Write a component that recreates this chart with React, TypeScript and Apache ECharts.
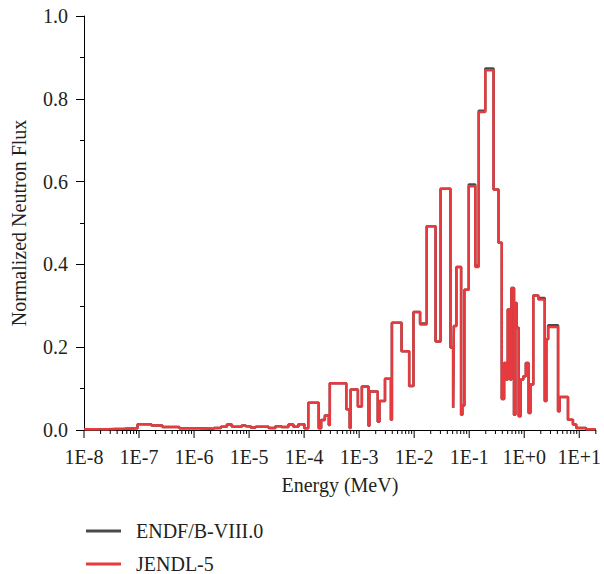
import React, { useEffect, useRef } from "react";
import * as echarts from "echarts";

// Group boundaries (MeV)
const energyEdges = [
  1.0e-8, 2.71e-8, 5.49e-8, 9.41e-8, 1.68e-7, 2.66e-7, 5.39e-7, 1.24e-6, 2.3e-6, 3.08e-6,
  3.95e-6, 4.87e-6, 7.37e-6, 8.7e-6, 1.07e-5, 1.32e-5, 2.26e-5, 3.02e-5, 3.88e-5, 5.19e-5,
  6.39e-5, 7.86e-5, 1.01e-4, 1.19e-4, 1.84e-4, 2.04e-4, 2.38e-4, 2.81e-4, 2.93e-4, 5.84e-4,
  6.73e-4, 7.01e-4, 9.49e-4, 1.12e-3, 1.48e-3, 1.54e-3, 2.18e-3, 2.34e-3, 2.95e-3, 3.78e-3,
  3.94e-3, 5.9e-3, 8.12e-3, 9.71e-3, 1.28e-2, 1.69e-2, 2.45e-2, 3.02e-2, 4.57e-2, 5.11e-2,
  5.26e-2, 5.86e-2, 7.13e-2, 7.52e-2, 8.18e-2, 9.81e-2, 0.129, 0.149, 0.196, 0.277,
  0.341, 0.391, 0.431, 0.468, 0.502, 0.552, 0.585, 0.652, 0.691, 0.729,
  0.793, 0.861, 0.963, 1.07, 1.2, 1.3, 1.46, 1.8, 2.36, 2.53,
  2.72, 4.12, 4.4, 6.24, 7.68, 8.81, 13.3, 20,
];

const jendl5Flux = [
  0.002, 0.003, 0.004, 0.014, 0.011, 0.007, 0.004, 0.003, 0.005, 0.008,
  0.013, 0.008, 0.011, 0.009, 0.006, 0.008, 0.005, 0.009, 0.007, 0.013,
  0.008, 0.014, 0.004, 0.066, 0.004, 0.024, 0.035, 0.012, 0.113, 0.05,
  0.005, 0.098, 0.057, 0.105, 0.01, 0.093, 0.02, 0.07, 0.124, 0.025,
  0.259, 0.19, 0.106, 0.285, 0.255, 0.492, 0.214, 0.583, 0.199, 0.054,
  0.251, 0.394, 0.037, 0.059, 0.339, 0.589, 0.394, 0.768, 0.869, 0.581,
  0.452, 0.075, 0.162, 0.122, 0.291, 0.122, 0.343, 0.037, 0.307, 0.247,
  0.033, 0.122, 0.13, 0.162, 0.041, 0.11, 0.325, 0.315, 0.07, 0.219,
  0.249, 0.045, 0.08, 0.025, 0.013, 0.005, 0.002,
];

const endfFlux = [
  0.002, 0.003, 0.004, 0.014, 0.011, 0.007, 0.004, 0.003, 0.005, 0.008,
  0.013, 0.008, 0.011, 0.009, 0.006, 0.008, 0.005, 0.009, 0.007, 0.013,
  0.008, 0.014, 0.004, 0.066, 0.004, 0.024, 0.035, 0.012, 0.113, 0.05,
  0.005, 0.098, 0.057, 0.105, 0.01, 0.093, 0.02, 0.07, 0.124, 0.025,
  0.259, 0.19, 0.106, 0.285, 0.257, 0.492, 0.214, 0.583, 0.199, 0.054,
  0.251, 0.394, 0.037, 0.059, 0.339, 0.593, 0.397, 0.771, 0.873, 0.581,
  0.452, 0.075, 0.162, 0.122, 0.291, 0.122, 0.343, 0.037, 0.307, 0.247,
  0.033, 0.122, 0.13, 0.162, 0.041, 0.11, 0.325, 0.319, 0.07, 0.219,
  0.253, 0.045, 0.08, 0.025, 0.013, 0.005, 0.002,
];

const seriesNames = ["ENDF/B-VIII.0", "JENDL-5"];
const seriesColors = ["#4a4a4a", "#e63a3f"];

const FONT = "Liberation Serif";
const TEXT = "#231f20";

function stepData(vals: number[]) {
  return energyEdges.map((e, i) => [e, i < vals.length ? vals[i] : vals[vals.length - 1]]);
}

function logTicks() {
  const out: number[][] = [];
  for (let p = -8; p <= 1; p++) {
    out.push([Math.pow(10, p), 1]);
    for (let k = 2; k <= 9; k++) {
      const v = k * Math.pow(10, p);
      if (v <= 20.0001) out.push([v, 0]);
    }
  }
  return out;
}

const legendText = { fontFamily: FONT, fontSize: 20, lineHeight: 20, color: TEXT, padding: [0, 0, 0, 10] };

export default function App() {
  const ref = useRef<HTMLDivElement>(null);
  useEffect(() => {
    if (!ref.current) return;
    const chart = echarts.init(ref.current, undefined, { renderer: "svg" });
    chart.setOption({
      animation: false,
      backgroundColor: "#ffffff",
      textStyle: { fontFamily: FONT, color: TEXT },
      grid: { left: 84, right: 4, top: 16, bottom: 144, containLabel: false },
      legend: [
        {
          data: [seriesNames[0]],
          orient: "vertical",
          left: 86,
          top: 521,
          padding: 0,
          icon: "rect",
          itemWidth: 35,
          itemHeight: 3,
          textStyle: legendText,
        },
        {
          data: [seriesNames[1]],
          orient: "vertical",
          left: 86,
          top: 554,
          padding: 0,
          icon: "rect",
          itemWidth: 35,
          itemHeight: 3,
          textStyle: legendText,
        },
      ],
      xAxis: {
        type: "log",
        logBase: 10,
        min: 1e-8,
        max: 20,
        splitNumber: 10,
        name: "Energy (MeV)",
        nameLocation: "middle",
        nameGap: 45,
        nameTextStyle: { fontFamily: FONT, fontSize: 20, color: TEXT },
        axisLine: { show: true, onZero: false, lineStyle: { color: "#000", width: 1 } },
        axisTick: { show: false },
        splitLine: { show: false },
        axisLabel: {
          margin: 17,
          fontFamily: FONT,
          fontSize: 20,
          color: TEXT,
          formatter: (v: number) => {
            const l = Math.log10(v);
            const e = Math.round(l);
            if (Math.abs(l - e) > 0.01) return "";
            return "1E" + (e >= 0 ? "+" : "") + e;
          },
        },
      },
      yAxis: {
        type: "value",
        min: 0,
        max: 1,
        interval: 0.2,
        name: "Normalized Neutron Flux",
        nameLocation: "middle",
        nameGap: 55,
        nameTextStyle: { fontFamily: FONT, fontSize: 20, color: TEXT },
        axisLine: { show: true, lineStyle: { color: "#000", width: 1 } },
        axisTick: { show: true, length: 8, lineStyle: { color: "#000" } },
        minorTick: { show: true, splitNumber: 2, length: 4, lineStyle: { color: "#000" } },
        splitLine: { show: false },
        minorSplitLine: { show: false },
        axisLabel: {
          margin: 16,
          fontFamily: FONT,
          fontSize: 20,
          color: TEXT,
          formatter: (v: number) => v.toFixed(1),
        },
      },
      series: [
        {
          name: seriesNames[0],
          type: "line",
          step: "end",
          symbol: "none",
          color: seriesColors[0],
          lineStyle: { width: 2.5, color: seriesColors[0] },
          data: stepData(endfFlux),
          z: 2,
        },
        {
          name: seriesNames[1],
          type: "line",
          step: "end",
          symbol: "none",
          color: seriesColors[1],
          lineStyle: { width: 2.5, color: seriesColors[1] },
          data: stepData(jendl5Flux),
          z: 3,
        },
        {
          name: "ticks",
          type: "custom",
          silent: true,
          clip: false,
          data: logTicks(),
          encode: { x: 0 },
          renderItem: (params: any, api: any) => {
            const v = api.value(0);
            const major = api.value(1) === 1;
            const p = api.coord([v, 0]);
            return {
              type: "line",
              shape: { x1: p[0], y1: p[1], x2: p[0], y2: p[1] + (major ? 8 : 4) },
              style: { stroke: "#000", lineWidth: 1 },
            };
          },
          z: 5,
        },
      ],
    });
    return () => chart.dispose();
  }, []);
  return (
    <div
      ref={ref}
      style={{ position: "fixed", left: 0, top: 0, width: 604, height: 574, background: "#fff" }}
    />
  );
}
